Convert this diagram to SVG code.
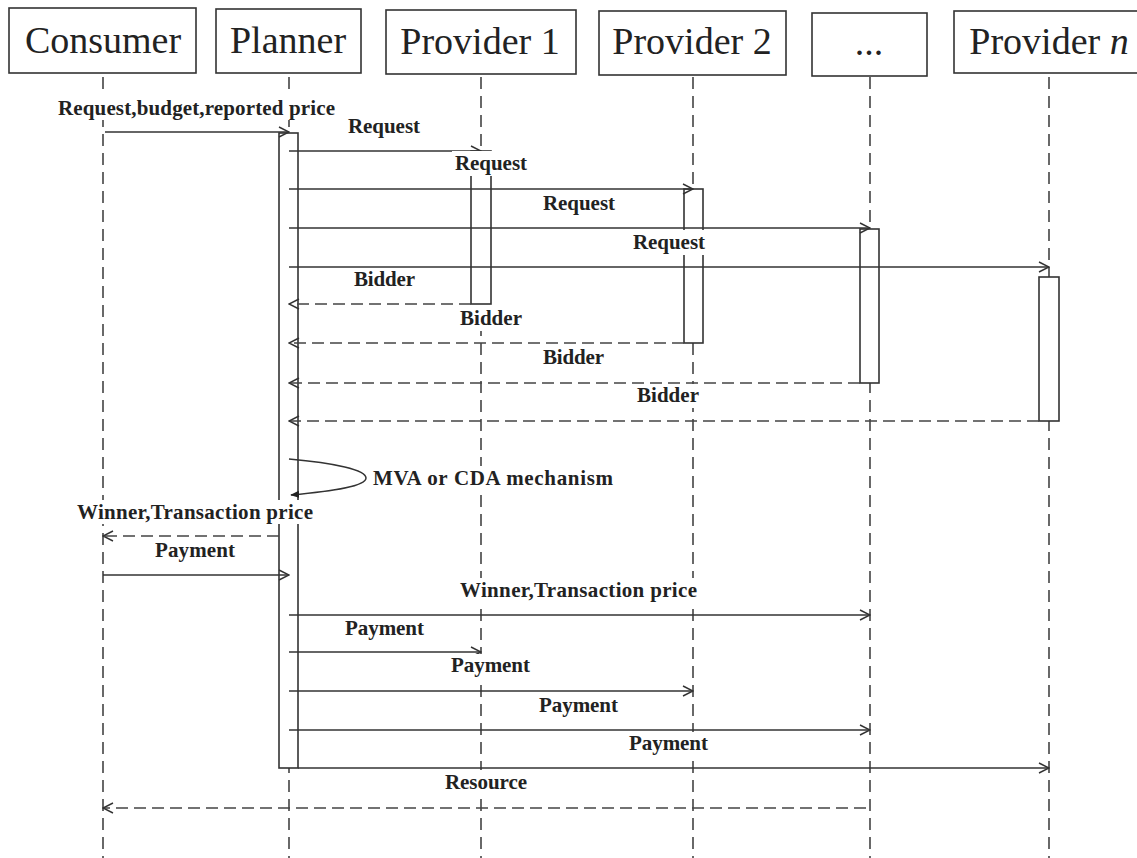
<svg xmlns="http://www.w3.org/2000/svg" width="1137" height="858" viewBox="0 0 1137 858">
<defs>
<style>
.box{fill:#fff;stroke:#333;stroke-width:1.6}
.hdr{font-family:"Liberation Serif","Times New Roman",serif;font-size:38px;fill:#222;text-anchor:middle}
.life{stroke:#444;stroke-width:1.6;stroke-dasharray:12 7;fill:none}
.act{fill:#fff;stroke:#333;stroke-width:1.6}
.msg{stroke:#333;stroke-width:1.5;fill:none;marker-end:url(#open)}
.ret{stroke:#444;stroke-width:1.5;fill:none;stroke-dasharray:12 6;marker-end:url(#open)}
.lbg{fill:#fff}
.lbl{font-family:"Liberation Serif","Times New Roman",serif;font-size:21px;font-weight:bold;fill:#222}
</style>
<marker id="open" viewBox="0 0 12 12" refX="11" refY="6" markerWidth="12" markerHeight="12" markerUnits="userSpaceOnUse" orient="auto">
<path d="M1,1 L11,6 L1,11" fill="none" stroke="#333" stroke-width="1.4" stroke-dasharray="none"/>
</marker>
<marker id="solid" viewBox="0 0 10 10" refX="9" refY="5" markerWidth="9" markerHeight="9" markerUnits="userSpaceOnUse" orient="auto">
<path d="M0,1 L10,5 L0,9 Z" fill="#222"/>
</marker>
</defs>
<rect width="1137" height="858" fill="#fff"/>

<g id="consumer">
<line class="life" x1="103" y1="77" x2="103" y2="858"/>
<rect class="box" x="9" y="8" width="187" height="65"/>
<text class="hdr" x="103" y="53">Consumer</text>
</g>
<g id="planner">
<line class="life" x1="289" y1="77" x2="289" y2="858"/>
<rect class="box" x="216" y="9" width="145" height="64"/>
<text class="hdr" x="288" y="53">Planner</text>
<rect class="act" x="279" y="133" width="19" height="635"/>
</g>
<g id="provider1">
<line class="life" x1="481" y1="77" x2="481" y2="858"/>
<rect class="box" x="386" y="10" width="190" height="64"/>
<text class="hdr" x="480" y="54">Provider 1</text>
<rect class="act" x="471" y="151" width="20" height="153"/>
</g>
<g id="provider2">
<line class="life" x1="693" y1="77" x2="693" y2="858"/>
<rect class="box" x="599" y="11" width="187" height="64"/>
<text class="hdr" x="692" y="54">Provider 2</text>
<rect class="act" x="684" y="189" width="19" height="154"/>
</g>
<g id="ellipsis">
<line class="life" x1="870" y1="77" x2="870" y2="858"/>
<rect class="box" x="812" y="13" width="115" height="63"/>
<text class="hdr" x="869" y="55">...</text>
<rect class="act" x="860" y="229" width="19" height="154"/>
</g>
<g id="providern">
<line class="life" x1="1049" y1="77" x2="1049" y2="858"/>
<rect class="box" x="954" y="11" width="190" height="62"/>
<text class="hdr" x="1049" y="54">Provider <tspan font-style="italic">n</tspan></text>
<rect class="act" x="1039" y="277" width="20" height="144"/>
</g>

<g id="connectors">
<path class="msg" d="M105,132 H289"/>
<path class="msg" d="M289,151 H481"/>
<path class="msg" d="M289,189 H693"/>
<path class="msg" d="M289,228 H870"/>
<path class="msg" d="M289,267 H1049"/>
<path class="ret" d="M471,304 H289"/>
<path class="ret" d="M684,343 H289"/>
<path class="ret" d="M860,383 H289"/>
<path class="ret" d="M1039,421 H289"/>
<path d="M289,459 C335,463 366,470 366,478 C366,486 335,491 291,495" fill="none" stroke="#333" stroke-width="1.5" marker-end="url(#solid)"/>
<path class="ret" d="M279,536 H103"/>
<path class="msg" d="M103,575 H289"/>
<path class="msg" d="M289,615 H870"/>
<path class="msg" d="M289,652 H481"/>
<path class="msg" d="M289,691 H693"/>
<path class="msg" d="M289,730 H870"/>
<path class="msg" d="M298,768 H1049"/>
<path class="ret" d="M866,808 H103"/>
</g>

<g id="labels">
<rect class="lbg" x="55" y="96" width="283" height="24"/>
<text class="lbl" x="58" y="115" textLength="277" lengthAdjust="spacing">Request,budget,reported price</text>
<rect class="lbg" x="345" y="114" width="78" height="24"/>
<text class="lbl" x="348" y="133" textLength="72" lengthAdjust="spacing">Request</text>
<rect class="lbg" x="452" y="151" width="78" height="25"/>
<text class="lbl" x="455" y="170" textLength="72" lengthAdjust="spacing">Request</text>
<rect class="lbg" x="540" y="191" width="78" height="24"/>
<text class="lbl" x="543" y="210" textLength="72" lengthAdjust="spacing">Request</text>
<rect class="lbg" x="630" y="230" width="78" height="25"/>
<text class="lbl" x="633" y="249" textLength="72" lengthAdjust="spacing">Request</text>
<rect class="lbg" x="351" y="268" width="67" height="24"/>
<text class="lbl" x="354" y="286" textLength="61" lengthAdjust="spacing">Bidder</text>
<rect class="lbg" x="457" y="305" width="68" height="26"/>
<text class="lbl" x="460" y="325" textLength="62" lengthAdjust="spacing">Bidder</text>
<rect class="lbg" x="540" y="345" width="67" height="24"/>
<text class="lbl" x="543" y="364" textLength="61" lengthAdjust="spacing">Bidder</text>
<rect class="lbg" x="634" y="384" width="68" height="24"/>
<text class="lbl" x="637" y="402" textLength="62" lengthAdjust="spacing">Bidder</text>
<rect class="lbg" x="370" y="466" width="246" height="24"/>
<text class="lbl" x="373" y="485" textLength="240" lengthAdjust="spacing">MVA or CDA mechanism</text>
<rect class="lbg" x="74" y="500" width="242" height="24"/>
<text class="lbl" x="77" y="519" textLength="236" lengthAdjust="spacing">Winner,Transaction price</text>
<rect class="lbg" x="152" y="539" width="86" height="23"/>
<text class="lbl" x="155" y="557" textLength="80" lengthAdjust="spacing">Payment</text>
<rect class="lbg" x="457" y="578" width="243" height="24"/>
<text class="lbl" x="460" y="597" textLength="237" lengthAdjust="spacing">Winner,Transaction price</text>
<rect class="lbg" x="342" y="617" width="85" height="23"/>
<text class="lbl" x="345" y="635" textLength="79" lengthAdjust="spacing">Payment</text>
<rect class="lbg" x="448" y="654" width="85" height="24"/>
<text class="lbl" x="451" y="672" textLength="79" lengthAdjust="spacing">Payment</text>
<rect class="lbg" x="536" y="693" width="85" height="24"/>
<text class="lbl" x="539" y="712" textLength="79" lengthAdjust="spacing">Payment</text>
<rect class="lbg" x="626" y="732" width="85" height="24"/>
<text class="lbl" x="629" y="750" textLength="79" lengthAdjust="spacing">Payment</text>
<rect class="lbg" x="442" y="770" width="88" height="24"/>
<text class="lbl" x="445" y="789" textLength="82" lengthAdjust="spacing">Resource</text>
</g>
</svg>
